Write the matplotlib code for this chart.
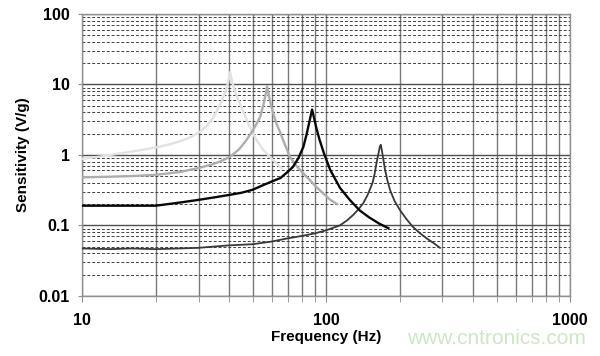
import matplotlib
matplotlib.use("Agg")
import matplotlib.pyplot as plt
from matplotlib.ticker import LogLocator, NullFormatter, FixedLocator

plt.rcParams['font.family'] = ['Liberation Sans', 'DejaVu Sans']

# sensor curves: frequency (Hz) and sensitivity (V/g)
f_light = [10, 12, 14.3, 17, 20, 23, 26, 28, 30.4, 32.5, 34.5, 36.8, 38.5, 39.6, 40.4,
           41.2, 42.3, 43.6, 45.5, 47.5, 49.7, 52, 55, 58.7, 62, 66]
s_light = [0.88, 0.95, 1.05, 1.15, 1.27, 1.42, 1.62, 1.8, 2.13, 2.6, 3.4, 5.2, 7.6, 10.5, 14.9,
           10.8, 8.0, 6.1, 4.3, 3.0, 2.13, 1.6, 1.2, 0.94, 0.78, 0.64]

f_med = [10, 13, 16, 20, 25, 30, 34, 37, 40.4, 44, 47, 49.7, 52, 53.7, 55.3, 56.5, 57.3,
         58.3, 59.5, 60.6, 62.5, 64.9, 67.5, 71, 76, 83.6, 92, 104, 111]
s_med = [0.48, 0.49, 0.5, 0.52, 0.57, 0.65, 0.73, 0.81, 0.94, 1.2, 1.6, 2.13, 2.8, 3.5, 5.1, 7.2, 9.4,
         6.8, 5.0, 3.97, 2.8, 2.06, 1.45, 0.94, 0.68, 0.48, 0.34, 0.23, 0.2]

f_blk = [10, 13, 16, 20, 25, 30, 35, 40, 45, 50, 55, 60, 65, 69, 73, 77, 80.7, 83, 85.5, 87.6,
         89.5, 91.5, 94, 98, 104, 114, 125, 137, 150, 165, 180]
s_blk = [0.19, 0.19, 0.19, 0.19, 0.21, 0.23, 0.25, 0.27, 0.29, 0.32, 0.37, 0.42, 0.47, 0.56, 0.67, 0.9, 1.3, 1.9, 3.0, 4.4,
         3.2, 2.3, 1.64, 1.05, 0.61, 0.34, 0.23, 0.164, 0.13, 0.106, 0.091]

f_dk = [10, 13, 16, 20, 25, 30, 40, 50, 60, 69, 80, 90, 100, 114, 122, 129, 136, 142, 148, 155, 158,
        161, 164, 166, 167.5, 169, 171.5, 174.5, 178.5, 183, 191, 201, 213, 227, 243, 259, 276, 293]
s_dk = [0.047, 0.046, 0.047, 0.046, 0.047, 0.048, 0.052, 0.054, 0.059, 0.065, 0.071, 0.077, 0.085, 0.1, 0.118, 0.14, 0.17, 0.206, 0.27, 0.4, 0.53,
        0.77, 1.05, 1.3, 1.39, 1.2, 0.88, 0.61, 0.43, 0.316, 0.22, 0.164, 0.124, 0.095, 0.077, 0.065, 0.056, 0.048]

fig = plt.figure(figsize=(6, 3.56), dpi=100)
ax = fig.add_axes([0.137, 0.169, 0.813, 0.792])

ax.set_xscale("log")
ax.set_yscale("log")
ax.set_xlim(10, 1000)
ax.set_ylim(0.01, 100)

ax.plot(f_light, s_light, color="#e2e2e2", lw=1.7, zorder=3)
ax.plot(f_med, s_med, color="#adadad", lw=1.7, zorder=3)
ax.plot(f_dk, s_dk, color="#383838", lw=1.3, zorder=4)
ax.plot(f_blk, s_blk, color="#080808", lw=1.7, zorder=5)

# grid: solid verticals at every decade step, dashed horizontal minors
ax.xaxis.set_major_locator(FixedLocator([10, 100, 1000]))
ax.xaxis.set_minor_locator(LogLocator(base=10, subs=range(2, 10)))
ax.xaxis.set_minor_formatter(NullFormatter())
ax.yaxis.set_major_locator(FixedLocator([0.01, 0.1, 1, 10, 100]))
ax.yaxis.set_minor_locator(LogLocator(base=10, subs=range(2, 10)))
ax.yaxis.set_minor_formatter(NullFormatter())
ax.set_xticklabels(["10", "100", "1000"])
ax.set_yticklabels(["0.01", "0.1", "1", "10", "100"])

ax.grid(True, which="major", axis="x", color="#7a7a7a", lw=1.0, zorder=1)
ax.grid(True, which="minor", axis="x", color="#7a7a7a", lw=1.0, zorder=1)
ax.grid(True, which="major", axis="y", color="#505050", lw=1.0, zorder=1)
ax.grid(True, which="minor", axis="y", color="#404040", lw=0.7, ls=(0, (3, 2)), zorder=1)

for sp in ax.spines.values():
    sp.set_color("#909090")
    sp.set_linewidth(1.0)

ax.tick_params(axis="x", which="both", direction="out", length=4, color="#909090", pad=8)
ax.tick_params(axis="y", which="major", direction="out", length=3, color="#909090", pad=6)
ax.tick_params(axis="y", which="minor", length=0)
for lab in ax.get_xticklabels() + ax.get_yticklabels():
    lab.set_fontweight("bold")
    lab.set_fontsize(11.5)

ax.set_xlabel("Frequency (Hz)", fontsize=11, fontweight="bold", labelpad=2)
ax.set_ylabel("Sensitivity (V/g)", fontsize=11, fontweight="bold", labelpad=6)

fig.text(0.828, 0.05, "www.cntronics.com", color="#cfe5c8", fontsize=15, ha="center", va="center")

fig.savefig("out.png", dpi=100)
